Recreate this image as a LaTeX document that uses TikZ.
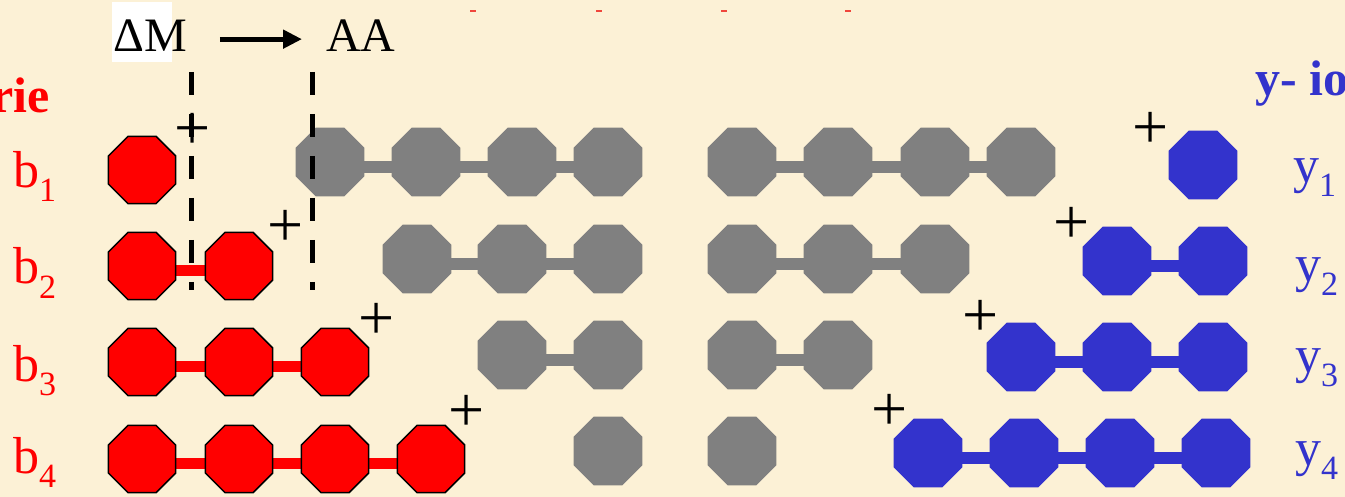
\documentclass[tikz,border=0pt]{standalone}
\usepackage{fontspec}
\setmainfont{Liberation Serif}
\usetikzlibrary{shapes.geometric,arrows.meta}
\definecolor{cream}{RGB}{252,241,214}
\definecolor{octred}{RGB}{255,0,0}
\definecolor{octgray}{RGB}{128,128,128}
\definecolor{octblue}{RGB}{51,51,204}
\definecolor{markred}{RGB}{240,70,60}
\pgfdeclarelayer{bg}
\pgfdeclarelayer{bars}
\pgfsetlayers{bg,bars,main}
\newcommand{\sublbl}[2]{#1\raisebox{-14pt}{\fontsize{34}{34}\selectfont #2}}
\tikzset{
  oct/.style={regular polygon, regular polygon sides=8, minimum size=74.6pt, inner sep=0pt, outer sep=0pt},
  redoct/.style={oct, minimum size=73pt, fill=octred, draw=black, line width=1.5pt},
  grayoct/.style={oct, fill=octgray},
  blueoct/.style={oct, fill=octblue},
  bar/.style={line width=11.5pt},
  plussign/.style={font=\fontsize{64}{64}\selectfont, inner sep=0pt},
  lab/.style={anchor=base west, inner sep=0pt, font=\fontsize{52}{52}\selectfont},
  guide/.style={line width=5pt, dash pattern=on 23pt off 19pt},
  head/.style={anchor=base west, inner sep=0pt, font=\fontsize{48}{48}\selectfont},
  title/.style={inner sep=0pt, font=\fontsize{50}{50}\selectfont\bfseries},
}
\begin{document}
\begin{tikzpicture}[x=1pt,y=-1pt]
\begin{pgfonlayer}{bg}
\fill[cream] (0,0) rectangle (1345,497);
\end{pgfonlayer}
\useasboundingbox (0,0) rectangle (1345,497);

% tiny red marks at top
\foreach \x in {470,596,721,845} \draw[markred, line width=1.5pt] (\x,11) -- ++(6,0);

% header
\fill[white] (112,2) rectangle (172,62);
\node[head] (dm) at (113,52) {ΔM};
\node[head] (aa) at (326,52) {AA};
\draw[line width=5pt, -{Triangle[length=19pt,width=18pt]}, shorten <=33pt, shorten >=24pt]
  ([yshift=-3pt]dm.east) -- ([yshift=-3pt]dm.east -| aa.west);

\node[title, anchor=base east, text=octred] (serie) at (50,113) {rie};
\node[title, anchor=base west, text=octblue] (yion) at (1255,96) {y- io};

% red chains
\node[redoct] (r11) at (142,170) {};
\foreach \x [count=\i] in {142,239} \node[redoct] (r2\i) at (\x,266) {};
\foreach \x [count=\i] in {142,239,335} \node[redoct] (r3\i) at (\x,362) {};
\foreach \x [count=\i] in {142,239,335,431} \node[redoct] (r4\i) at (\x,459) {};

% gray chains A
\foreach \x [count=\i] in {330,426,522,608} \node[grayoct] (ga1\i) at (\x,162) {};
\foreach \x [count=\i] in {417,512,608} \node[grayoct] (ga2\i) at (\x,259) {};
\foreach \x [count=\i] in {512,608} \node[grayoct] (ga3\i) at (\x,355) {};
\node[grayoct] (ga41) at (608,451) {};
% gray chains B
\foreach \x [count=\i] in {742,838,935,1021} \node[grayoct] (gb1\i) at (\x,162) {};
\foreach \x [count=\i] in {742,838,935} \node[grayoct] (gb2\i) at (\x,259) {};
\foreach \x [count=\i] in {742,838} \node[grayoct] (gb3\i) at (\x,355) {};
\node[grayoct] (gb41) at (742,451) {};

% blue chains
\node[blueoct] (y11) at (1203,165) {};
\foreach \x [count=\i] in {1117,1213} \node[blueoct] (y2\i) at (\x,261) {};
\foreach \x [count=\i] in {1021,1117,1213} \node[blueoct] (y3\i) at (\x,357) {};
\foreach \x [count=\i] in {928,1024,1120,1216} \node[blueoct] (y4\i) at (\x,453) {};

% bars
\begin{pgfonlayer}{bars}
\foreach \a/\b in {r21/r22,r31/r32,r32/r33,r41/r42,r42/r43,r43/r44}
  \draw[bar, octred] ([yshift=-4.5pt]\a.center) -- ([yshift=-4.5pt]\b.center);
\foreach \a/\b in {ga11/ga12,ga12/ga13,ga13/ga14,ga21/ga22,ga22/ga23,ga31/ga32,
                   gb11/gb12,gb12/gb13,gb13/gb14,gb21/gb22,gb22/gb23,gb31/gb32}
  \draw[bar, octgray] ([yshift=-5pt]\a.center) -- ([yshift=-5pt]\b.center);
\foreach \a/\b in {y21/y22,y31/y32,y32/y33,y41/y42,y42/y43,y43/y44}
  \draw[bar, octblue] ([yshift=-5pt]\a.center) -- ([yshift=-5pt]\b.center);
\end{pgfonlayer}

% plus signs
\node[plussign] (pr1) at (193,131) {+};
\node[plussign] (pr2) at (286,228) {+};
\node[plussign] (pr3) at (377,321) {+};
\node[plussign] (pr4) at (467,413) {+};
\node[plussign] (py1) at (1151,130) {+};
\node[plussign] (py2) at (1072,225) {+};
\node[plussign] (py3) at (981,318) {+};
\node[plussign] (py4) at (890,412) {+};

% labels
\node[lab, text=octred] (b1) at (13,188) {\sublbl{b}{1}};
\node[lab, text=octred] (b2) at (13,284) {\sublbl{b}{2}};
\node[lab, text=octred] (b3) at (13,381) {\sublbl{b}{3}};
\node[lab, text=octred] (b4) at (13,473) {\sublbl{b}{4}};
\node[lab, text=octblue] (ly1) at (1293,183) {\sublbl{y}{1}};
\node[lab, text=octblue] (ly2) at (1295,282) {\sublbl{y}{2}};
\node[lab, text=octblue] (ly3) at (1295,372) {\sublbl{y}{3}};
\node[lab, text=octblue] (ly4) at (1295,465) {\sublbl{y}{4}};

% dashed guide lines
\coordinate (d1a) at (191.5,72);
\coordinate (d1b) at (191.5,290);
\coordinate (d2a) at (312,72);
\coordinate (d2b) at (312,290);
\draw[guide] (d1a) -- (d1b);
\draw[guide] (d2a) -- (d2b);
\end{tikzpicture}
\end{document}
